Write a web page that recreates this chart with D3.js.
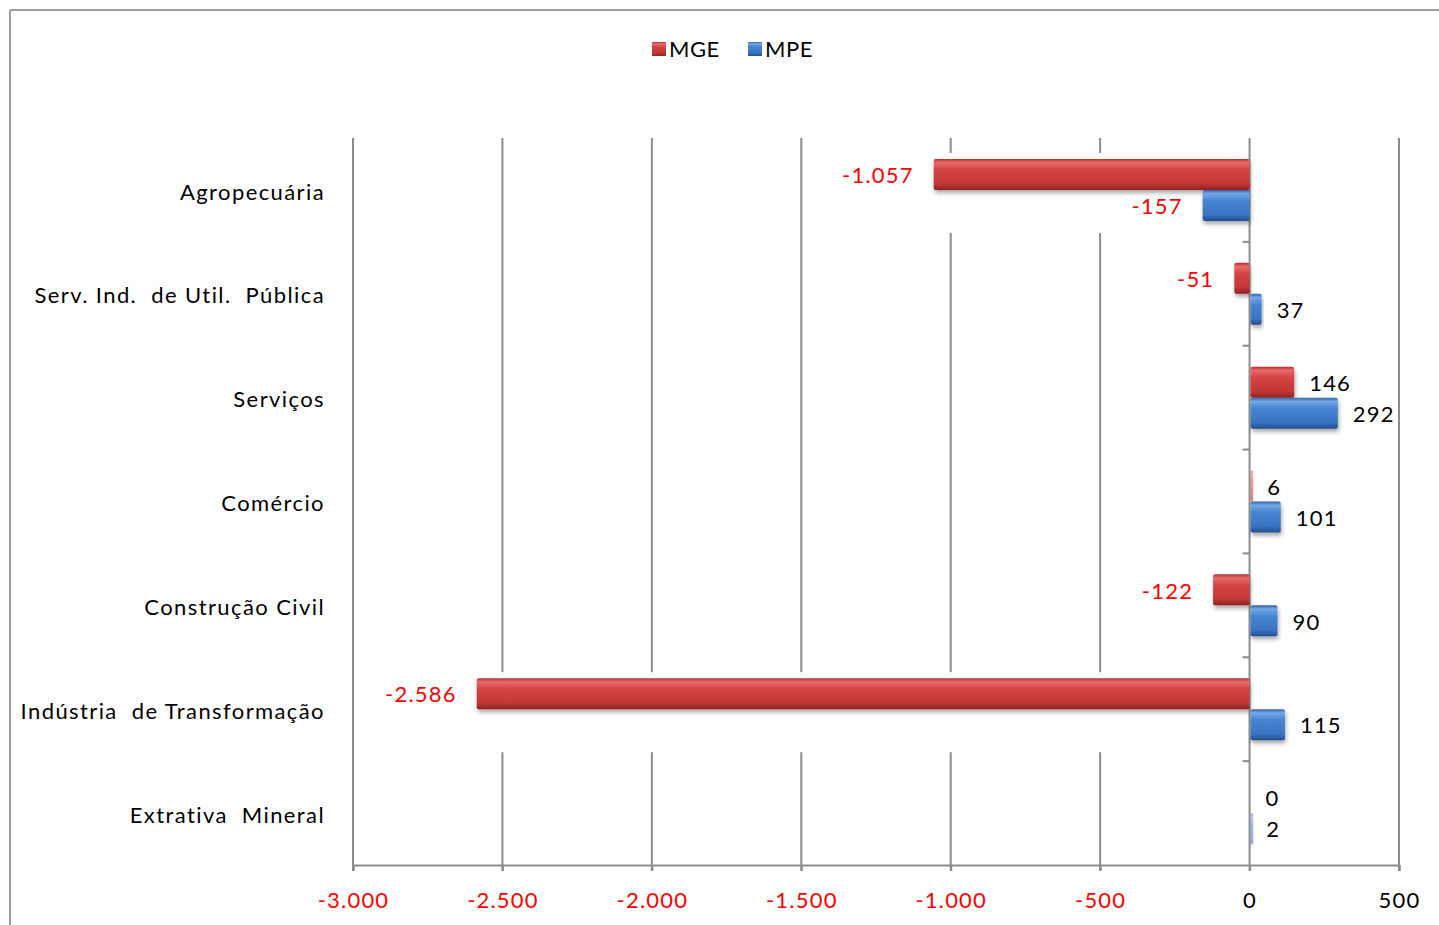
<!DOCTYPE html>
<html><head><meta charset="utf-8">
<script src="https://cdn.jsdelivr.net/npm/d3@7"></script>
<style>
html,body{margin:0;padding:0;background:#fff;}
svg{display:block;}
text{font-family:Lato,"Open Sans",sans-serif;}
</style></head>
<body>
<svg id="c" width="1439" height="925"></svg>
<script>
const categories = ["Agropecuária","Serv. Ind.  de Util.  Pública","Serviços","Comércio","Construção Civil","Indústria  de Transformação","Extrativa  Mineral"];
const seriesNames = ["MGE","MPE"];
const mge = [-1057,-51,146,6,-122,-2586,0];
const mpe = [-157,37,292,101,90,115,2];
const mgeLabels = ["-1.057","-51","146","6","-122","-2.586","0"];
const mpeLabels = ["-157","37","292","101","90","115","2"];
const tickValues = [-3000,-2500,-2000,-1500,-1000,-500,0,500];
const tickLabels = ["-3.000","-2.500","-2.000","-1.500","-1.000","-500","0","500"];

const svg = d3.select("#c");
const defs = svg.append("defs");

function grad(id, stops){
  const g = defs.append("linearGradient").attr("id",id).attr("x1",0).attr("y1",0).attr("x2",0).attr("y2",1);
  stops.forEach(s=>g.append("stop").attr("offset",s[0]).attr("stop-color",s[1]));
}
grad("gRed",[[0,"#b83030"],[0.12,"#e86a6a"],[0.35,"#d44444"],[0.8,"#c23636"],[1,"#8e2222"]]);
grad("gBlue",[[0,"#2f62a8"],[0.12,"#74a8e6"],[0.35,"#4684d2"],[0.8,"#3a74c2"],[1,"#214e8c"]]);
const f = defs.append("filter").attr("id","sh").attr("x","-10%").attr("y","-30%").attr("width","130%").attr("height","180%");
f.append("feDropShadow").attr("dx",1).attr("dy",3).attr("stdDeviation",2).attr("flood-color","#000").attr("flood-opacity",0.35);

// frame
svg.append("line").attr("x1",10).attr("x2",1439).attr("y1",10).attr("y2",10).attr("stroke","#a0a0a0").attr("stroke-width",2);
svg.append("line").attr("x1",10).attr("x2",10).attr("y1",10).attr("y2",925).attr("stroke","#a0a0a0").attr("stroke-width",2);

const x = d3.scaleLinear().domain([-3000,500]).range([353,1399]);
const y = d3.scaleBand().domain(d3.range(categories.length)).range([138,865]).paddingInner(0).paddingOuter(0);
const bandH = y.bandwidth();
const barH = 31;
const off = (bandH - 2*barH)/2;

// gridlines (non-zero)
svg.append("g").selectAll("line").data(tickValues.filter(v=>v!==0)).join("line")
  .attr("x1",d=>x(d)).attr("x2",d=>x(d)).attr("y1",138).attr("y2",871)
  .attr("stroke","#8c8c8c").attr("stroke-width",2);

// white backing behind long bars
const series = [mge, mpe];
const backs = svg.append("g");
categories.forEach((c,i)=>{
  series.forEach((s,k)=>{
    const v = s[i];
    const x0 = Math.min(x(0),x(v)), x1 = Math.max(x(0),x(v));
    if (Math.abs(v) > 200) {
      backs.append("rect").attr("x",x0-10).attr("width",x1-x0+20)
        .attr("y",y(i)+off+k*barH-6).attr("height",barH*2+18).attr("fill","#fff");
    }
  });
});

// zero axis with category ticks
svg.append("line").attr("x1",x(0)).attr("x2",x(0)).attr("y1",138).attr("y2",871).attr("stroke","#8c8c8c").attr("stroke-width",2);
svg.append("g").selectAll("line").data(d3.range(1,categories.length)).join("line")
  .attr("x1",x(0)-7).attr("x2",x(0)).attr("y1",d=>y(d)).attr("y2",d=>y(d))
  .attr("stroke","#8c8c8c").attr("stroke-width",2);

// x axis
const xAxis = d3.axisBottom(x).tickValues(tickValues).tickFormat((d,i)=>tickLabels[i]).tickSize(6).tickPadding(21);
const ax = svg.append("g").attr("transform","translate(0,865)").call(xAxis);
ax.select(".domain").attr("stroke","#8c8c8c").attr("stroke-width",2);
ax.selectAll(".tick line").attr("stroke","#8c8c8c").attr("stroke-width",2);
ax.selectAll(".tick text").attr("font-size",22).attr("font-family","Lato, sans-serif").attr("letter-spacing","1.2px")
  .attr("fill",d=>d<0?"#ff0000":"#000");

// bars
const fills = ["url(#gRed)","url(#gBlue)"];
const bars = svg.append("g");
categories.forEach((c,i)=>{
  series.forEach((s,k)=>{
    const v = s[i];
    if (v === 0) return;
    const x0 = Math.min(x(0),x(v)), x1 = Math.max(x(0),x(v));
    const w = Math.max(x1-x0, 2.5);
    bars.append("rect").attr("x",v<0?x0:x(0)+1).attr("width",w)
      .attr("y",y(i)+off+k*barH).attr("height",barH)
      .attr("rx",2).attr("fill",fills[k]).attr("filter","url(#sh)")
      .attr("opacity", w<4 ? 0.55 : 1);
  });
});

// value labels
const labs = [mgeLabels, mpeLabels];
const lg = svg.append("g");
categories.forEach((c,i)=>{
  series.forEach((s,k)=>{
    const v = s[i];
    const yc = y(i)+off+k*barH+barH/2+1;
    const neg = v<0;
    lg.append("text").attr("x", neg ? x(v)-20 : x(Math.max(v,0))+16)
      .attr("y",yc).attr("dy","0.35em")
      .attr("text-anchor",neg?"end":"start")
      .attr("font-size",22).attr("letter-spacing","1.2px")
      .attr("fill",neg?"#ff0000":"#000").text(labs[k][i]);
  });
});

// category labels
svg.append("g").selectAll("text").data(categories).join("text")
  .attr("x",325).attr("y",(d,i)=>y(i)+bandH/2+2).attr("dy","0.35em")
  .attr("text-anchor","end").attr("font-size",22).attr("letter-spacing","1.4px")
  .style("white-space","pre").attr("fill","#000").text(d=>d);

// legend
const legX = [652,748];
const leg = svg.append("g");
seriesNames.forEach((n,k)=>{
  leg.append("rect").attr("x",legX[k]).attr("y",42).attr("width",14).attr("height",14).attr("fill",fills[k]);
  leg.append("text").attr("x",legX[k]+17).attr("y",49).attr("dy","0.35em").attr("font-size",22).attr("letter-spacing","0.5px").attr("fill","#000").text(n);
});
</script>
</body></html>
